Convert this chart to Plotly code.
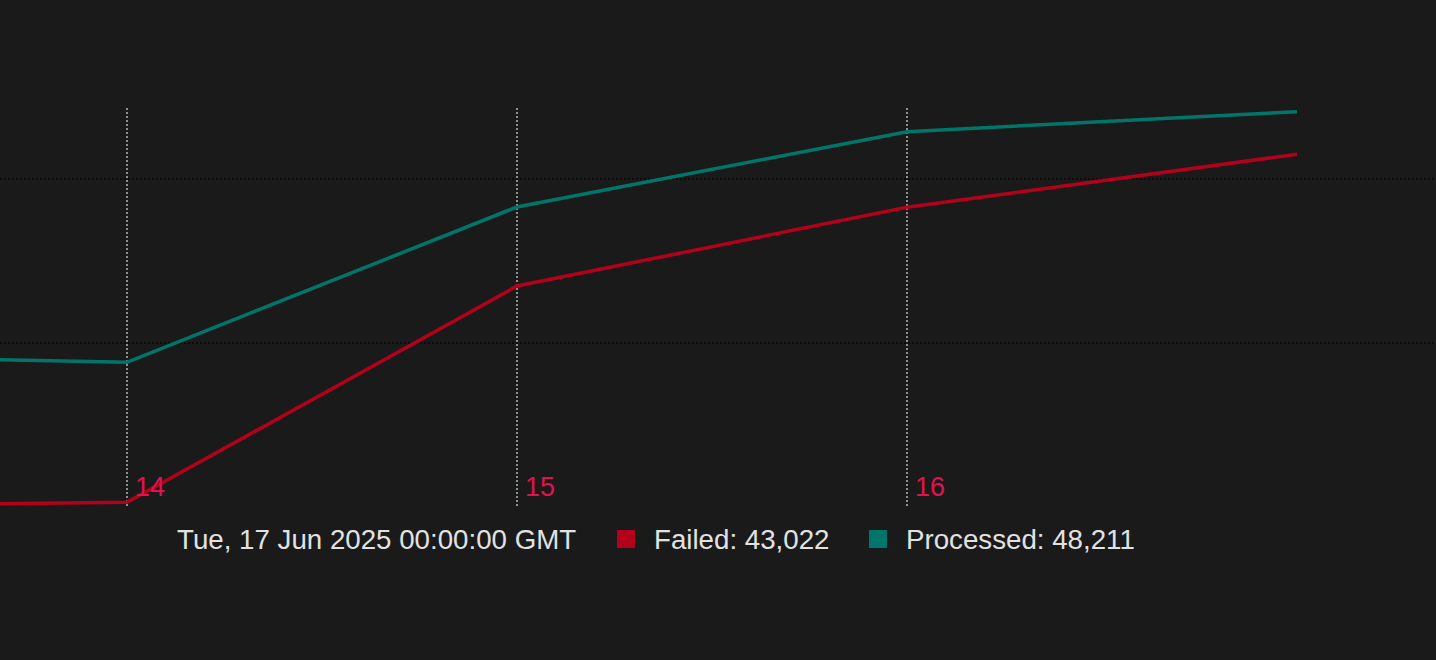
import pandas as pd
import plotly.graph_objects as go

# daily values
dates = ["2025-06-13", "2025-06-14", "2025-06-15", "2025-06-16", "2025-06-17"]
processed = [18600, 17650, 36590, 45770, 48211]
failed = [60, 570, 26950, 36550, 43022]
tick_days = ["2025-06-14", "2025-06-15", "2025-06-16"]
tick_text = ["14", "15", "16"]
legend_date = "Tue, 17 Jun 2025 00:00:00 GMT"

BG = "#1a1a1a"
RED = "#b3001b"
TEAL = "#00766b"
LABEL = "#e0124f"
TEXT = "#e2e2e2"
FONT = "Liberation Sans, Arial, sans-serif"

W, H = 1436, 660
PLOT_TOP, PLOT_BOTTOM = 108, 507
DAY_PX = 390
DAY14_PX = 127

day14 = pd.Timestamp(tick_days[0])
x_start = day14 - pd.Timedelta(days=DAY14_PX / DAY_PX)
x_end = day14 + pd.Timedelta(days=(W - DAY14_PX) / DAY_PX)

fig = go.Figure()
fig.add_trace(go.Scatter(x=dates, y=processed, mode="lines", name="Processed",
                         line=dict(color=TEAL, width=3.5)))
fig.add_trace(go.Scatter(x=dates, y=failed, mode="lines", name="Failed",
                         line=dict(color=RED, width=3.5)))

fig.update_layout(
    width=W, height=H,
    paper_bgcolor=BG, plot_bgcolor=BG,
    margin=dict(l=0, r=0, t=PLOT_TOP, b=H - PLOT_BOTTOM),
    showlegend=False,
    font=dict(family=FONT, color=TEXT),
)

fig.update_xaxes(
    type="date",
    range=[x_start, x_end],
    tickvals=tick_days, ticktext=tick_text,
    ticklabelposition="inside right",
    ticklabelshift=8,
    tickfont=dict(size=27, color=LABEL, family=FONT),
    ticks="",
    showgrid=True, gridcolor="#8e8e8e", gridwidth=1.5, griddash="2px,2px",
    showline=False, zeroline=False,
)
fig.update_yaxes(
    range=[0, 48660],
    tick0=0, dtick=20000,
    showticklabels=False, ticks="",
    showgrid=True, gridcolor="#0c0c0c", gridwidth=1.5, griddash="2px,2px",
    showline=False, zeroline=False,
)


def px_x(px):
    return px / W


def px_y(py):
    return (PLOT_BOTTOM - py) / (PLOT_BOTTOM - PLOT_TOP)


# custom legend row under the plot
row_y = px_y(539)
items = [
    (175, None, legend_date),
    (652, RED, f"Failed: {failed[-1]:,}"),
    (904, TEAL, f"Processed: {processed[-1]:,}"),
]
for x_px, colour, label in items:
    fig.add_annotation(xref="paper", yref="paper", x=px_x(x_px), y=row_y,
                       xanchor="left", yanchor="middle", showarrow=False,
                       text=label, font=dict(size=27.7, color=TEXT, family=FONT))
    if colour:
        fig.add_shape(type="rect", xref="paper", yref="paper",
                      x0=px_x(x_px - 35), x1=px_x(x_px - 17),
                      y0=px_y(548), y1=px_y(530),
                      fillcolor=colour, line=dict(width=0))

fig.write_html(
    "out.html",
    config={"displayModeBar": False},
    post_script="document.body.style.margin='0';document.body.style.background='#1a1a1a';",
)
